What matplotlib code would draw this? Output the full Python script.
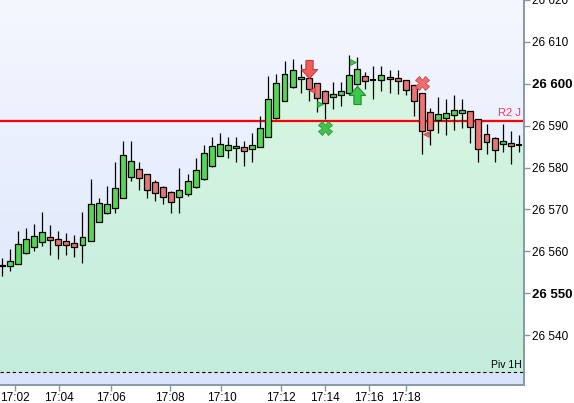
import numpy as np
import matplotlib.pyplot as plt
from matplotlib.path import Path

# candle data (one bar per index)
opens = [26556.8, 26556.6, 26557.1, 26559.5, 26561.1, 26562.3, 26563.5, 26563.0, 26562.4, 26562.1,
         26561.6, 26562.5, 26567.0, 26569.2, 26570.4, 26572.8, 26577.8, 26579.7, 26578.5, 26576.6,
         26575.4, 26574.2, 26573.0, 26573.7, 26575.3, 26577.2, 26580.3, 26582.8, 26584.2, 26584.7,
         26584.9, 26584.5, 26584.9, 26587.3, 26591.8, 26595.9, 26599.2, 26601.1, 26601.4, 26600.2,
         26598.3, 26596.8, 26597.3, 26597.8, 26599.9, 26601.8, 26601.0, 26600.9, 26601.6, 26601.4,
         26600.9, 26599.7, 26597.8, 26593.3, 26591.4, 26591.8, 26592.5, 26593.0, 26593.5, 26591.6,
         26588.0, 26587.1, 26585.7, 26585.9, 26585.5]
closes = [26556.4, 26557.6, 26561.7, 26563.0, 26563.6, 26564.7, 26562.7, 26561.6, 26561.6, 26561.1,
          26563.5, 26571.4, 26571.6, 26571.4, 26575.2, 26583.0, 26581.6, 26577.5, 26574.7, 26574.0,
          26573.0, 26571.8, 26574.7, 26576.8, 26579.5, 26583.5, 26585.2, 26585.6, 26585.4, 26585.2,
          26584.0, 26585.4, 26589.5, 26596.4, 26600.2, 26602.3, 26603.3, 26601.6, 26598.7, 26596.6,
          26595.4, 26597.5, 26598.3, 26602.1, 26603.5, 26600.6, 26601.0, 26602.1, 26601.1, 26600.6,
          26598.5, 26595.9, 26588.7, 26589.0, 26592.8, 26593.0, 26593.7, 26593.7, 26589.7, 26584.5,
          26586.1, 26584.2, 26586.4, 26585.2, 26585.5]
highs = [26558.3, 26560.5, 26564.8, 26565.5, 26566.5, 26569.3, 26566.4, 26564.8, 26564.3, 26563.8,
         26569.3, 26577.3, 26572.8, 26575.5, 26581.4, 26586.4, 26586.4, 26581.4, 26578.5, 26577.1,
         26575.6, 26574.3, 26579.8, 26578.5, 26582.3, 26585.5, 26587.3, 26588.3, 26587.3, 26587.3,
         26586.4, 26588.3, 26592.4, 26601.8, 26602.3, 26605.4, 26605.9, 26604.7, 26601.5, 26600.3,
         26598.4, 26600.4, 26600.4, 26606.8, 26606.4, 26602.8, 26604.3, 26604.3, 26603.3, 26603.3,
         26601.0, 26599.8, 26597.9, 26594.2, 26596.8, 26596.4, 26597.3, 26596.4, 26593.6, 26591.7,
         26590.4, 26587.2, 26590.4, 26588.7, 26587.8]
lows = [26554.1, 26555.3, 26556.9, 26559.3, 26560.2, 26561.3, 26559.1, 26558.2, 26559.1, 26558.6,
        26557.2, 26562.4, 26566.9, 26569.0, 26569.2, 26572.7, 26576.7, 26574.6, 26572.7, 26572.1,
        26571.3, 26569.2, 26569.2, 26573.3, 26575.2, 26577.1, 26580.2, 26582.7, 26582.3, 26581.4,
        26580.4, 26581.4, 26584.8, 26587.2, 26591.7, 26595.8, 26599.1, 26597.8, 26595.9, 26593.3,
        26591.7, 26594.0, 26594.7, 26597.3, 26599.8, 26598.7, 26596.4, 26598.3, 26597.8, 26597.5,
        26597.3, 26592.3, 26583.3, 26585.4, 26588.3, 26587.8, 26589.0, 26589.5, 26585.9, 26581.4,
        26583.3, 26581.4, 26583.7, 26580.9, 26583.7]

# smoothed line drawn as the green area
fill_line = [26555.5, 26557.0, 26559.3, 26561.2, 26562.4, 26563.5, 26563.1, 26562.4, 26562.0, 26561.5,
             26562.5, 26567.0, 26569.3, 26570.3, 26572.8, 26577.9, 26579.8, 26578.6, 26576.7, 26575.3,
             26574.2, 26573.0, 26573.8, 26575.3, 26577.4, 26580.5, 26582.8, 26584.2, 26584.8, 26585.0,
             26584.5, 26585.0, 26587.2, 26591.8, 26596.0, 26599.2, 26601.2, 26601.4, 26600.0, 26598.3,
             26596.9, 26597.2, 26597.7, 26599.9, 26601.7, 26601.2, 26601.0, 26601.6, 26601.3, 26601.0,
             26599.7, 26597.8, 26593.3, 26591.1, 26592.0, 26592.5, 26593.1, 26593.4, 26591.5, 26588.0,
             26587.1, 26585.6, 26586.0, 26585.6, 26585.6]

r2_level = 26591.0
piv_level = 26531.2

tick_pos = [1.65, 7.13, 13.5, 20.8, 27.2, 34.6, 40.0, 45.5, 50.0]
tick_labels = ['17:02', '17:04', '17:06', '17:08', '17:10', '17:12', '17:14', '17:16', '17:18']
yticks = [26540, 26550, 26560, 26570, 26580, 26590, 26600, 26610, 26620]

# signal markers (bar position, price)
sell_arrow = (38, 26603.5)
buy_arrow = (44, 26597.4)
green_x = (40, 26589.5)
red_x = (52, 26600.2)
green_tri = [(39.4, 26595.2), (43.5, 26605.2)]
red_tri = [(38.4, 26598.6), (52.5, 26588.1)]

plt.rcParams['font.family'] = ['Liberation Sans', 'DejaVu Sans']

fig = plt.figure(figsize=(5.74, 4.03), dpi=100)
ax = fig.add_axes([0, 18/403, 524/574, 385/403])

idx = np.arange(len(opens))
xl, xr = -0.21, 64.64
yb, yt = 26528.1, 26619.8
ax.set_xlim(xl, xr)
ax.set_ylim(yb, yt)

# background gradient
bg = np.linspace(0, 1, 256)[:, None]
c_top = np.array([245, 247, 254]) / 255
c_bot = np.array([216, 228, 252]) / 255
bg_img = c_top + (c_bot - c_top) * bg[..., None]
ax.imshow(bg_img, extent=[xl, xr, yb, yt], aspect='auto', zorder=0, origin='upper')

# green area down to the pivot line
xf = np.r_[xl, idx, xr]
yf = np.r_[fill_line[0], fill_line, fill_line[-1]]
poly = ax.fill_between(xf, yf, piv_level, color='none', zorder=1)
g_top = np.array([216, 246, 226]) / 255
g_bot = np.array([196, 236, 220]) / 255
g_img = g_top + (g_bot - g_top) * bg[..., None]
im = ax.imshow(g_img, extent=[xl, xr, piv_level, max(fill_line)], aspect='auto',
               zorder=1, origin='upper')
im.set_clip_path(poly.get_paths()[0], transform=ax.transData)

# levels
ax.axhline(r2_level, color='#ff0000', lw=1.6, zorder=2)
ax.axhline(piv_level, color='black', lw=0.8, ls=(0, (3, 2.5)), zorder=2)
ax.text(0.994, r2_level + 0.8, 'R2 J', color='#ff3355', fontsize=8, ha='right', va='bottom',
        transform=ax.get_yaxis_transform())
ax.text(0.996, piv_level + 0.5, 'Piv 1H', color='black', fontsize=7.5, ha='right', va='bottom',
        transform=ax.get_yaxis_transform())

# candles
o = np.array(opens); c = np.array(closes)
ax.vlines(idx, lows, highs, color='black', lw=0.9, zorder=3)
up = c > o
dn = c < o
eq = c == o
w = 0.74
ax.bar(idx[up], (c - o)[up], bottom=o[up], width=w, color='#55d655', edgecolor='black',
       linewidth=0.9, zorder=4)
ax.bar(idx[dn], (o - c)[dn], bottom=c[dn], width=w, color='#e97474', edgecolor='black',
       linewidth=0.9, zorder=4)
ax.hlines(c[eq], idx[eq] - w/2, idx[eq] + w/2, color='black', lw=1.5, zorder=4)

# arrow markers
arrow_down = Path([(-0.2, 0.5), (0.2, 0.5), (0.2, 0.0), (0.45, 0.0), (0, -0.5),
                   (-0.45, 0.0), (-0.2, 0.0), (-0.2, 0.5)])
arrow_up = Path([(x, -y) for x, y in arrow_down.vertices])
ax.plot(*sell_arrow, marker=arrow_down, ms=13, color='#ee5c5c', mec='#c83a3a', mew=0.8, zorder=5)
ax.plot(*buy_arrow, marker=arrow_up, ms=13, color='#3cc84a', mec='#1f8e2c', mew=0.8, zorder=5)
ax.plot(*green_x, marker='X', ms=10, color='#44c050', mec='#2a9a38', mew=0.6, zorder=5)
ax.plot(*red_x, marker='X', ms=10, color='#ef6f6f', mec='#cc4444', mew=0.6, zorder=5)
for px, py in green_tri:
    ax.plot(px, py, marker='>', ms=5, color='#3cc84a', mec='#1f8e2c', mew=0.5, zorder=5)
for px, py in red_tri:
    ax.plot(px, py, marker='<', ms=5, color='#ee5c5c', mec='#c83a3a', mew=0.5, zorder=5)

# axes styling
for s in ['top', 'left']:
    ax.spines[s].set_visible(False)
for s in ['right', 'bottom']:
    ax.spines[s].set_color('#8798a6')
    ax.spines[s].set_linewidth(1.4)
ax.yaxis.tick_right()
ax.set_yticks(yticks)
ax.set_yticklabels([f'{v:,}'.replace(',', ' ') for v in yticks])
ax.set_xticks(tick_pos)
ax.set_xticklabels(tick_labels)
ax.tick_params(axis='both', direction='out', length=4, width=1, color='#8798a6',
               labelsize=8.5, pad=2)
ax.tick_params(axis='x', pad=1)
for lab, v in zip(ax.get_yticklabels(), yticks):
    if v % 50 == 0:
        lab.set_fontweight('bold')
        lab.set_fontsize(9.5)

fig.savefig('out.png', dpi=100)
